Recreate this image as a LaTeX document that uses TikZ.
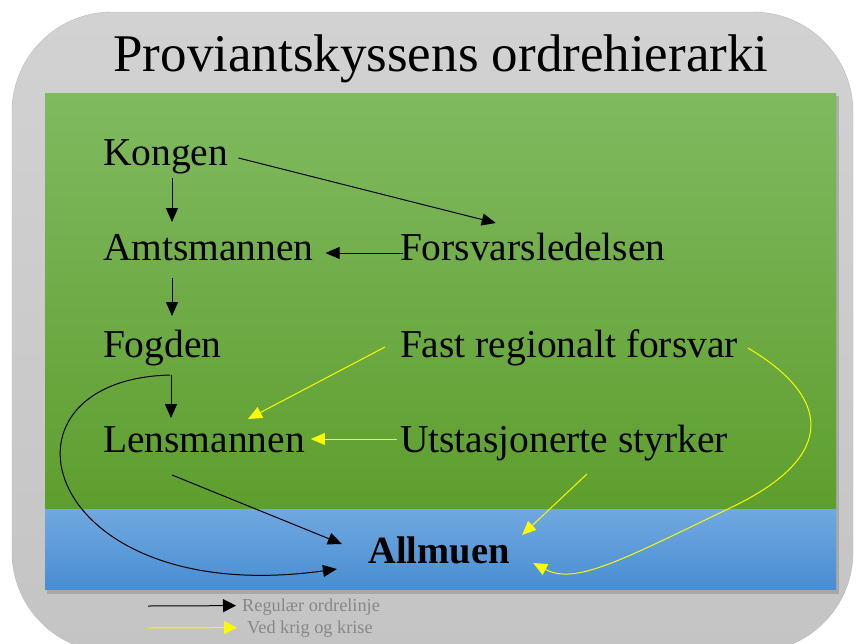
\documentclass[tikz,border=0pt]{standalone}
\usepackage{fontspec}
\setmainfont{Liberation Serif}
\usetikzlibrary{arrows.meta}

\definecolor{bggray}{RGB}{210,210,210}
\definecolor{bggraydark}{RGB}{196,196,196}
\definecolor{greentop}{RGB}{128,186,96}
\definecolor{greenbot}{RGB}{94,158,46}
\definecolor{bluetop}{RGB}{112,168,224}
\definecolor{bluebot}{RGB}{72,142,210}
\definecolor{legendgray}{RGB}{135,135,135}
\definecolor{krisegul}{RGB}{250,250,0}

\begin{document}
\begin{tikzpicture}[x=1pt,y=-1pt,
  lbl/.style={inner sep=0pt,outer sep=0pt,anchor=base west,text height=27pt,text depth=9pt,font=\fontsize{39.5}{42}\selectfont},
  legtxt/.style={inner sep=0pt,anchor=base west,text=legendgray,font=\fontsize{18.3}{20}\selectfont},
  reg/.style={black,line width=1pt,-{Triangle[length=14pt,width=12pt]}},
  krise/.style={krisegul,line width=1pt,-{Triangle[length=14pt,width=12pt]}}]
\useasboundingbox (0,0) rectangle (856,643);
\clip (0,0) rectangle (856,643);
% bakgrunn
\shadedraw[top color=bggray,bottom color=bggraydark,draw=black!28,rounded corners=100pt] (12,12) rectangle (853,652);
\fill[black!45,opacity=0.5] (47,96) rectangle (839,594);
\shade[top color=greentop,bottom color=greenbot] (45,93) rectangle (836,509);
\shade[top color=bluetop,bottom color=bluebot] (45,509) rectangle (836,589);

\node[anchor=base,inner sep=0pt,font=\fontsize{53}{56}\selectfont] (title) at (441,71) {Proviantskyssens ordrehierarki};

% ledd
\node[lbl] (kongen) at (103,165) {Kongen};
\node[lbl] (amt) at (103,260) {Amtsmannen};
\node[lbl] (fogd) at (103,357) {Fogden};
\node[lbl] (lens) at (103,452) {Lensmannen};
\node[lbl] (forsvar) at (400,260) {Forsvarsledelsen};
\node[lbl] (fast) at (400,357) {Fast regionalt forsvar};
\node[lbl] (utst) at (400,452) {Utstasjonerte styrker};
\node[lbl,anchor=base,font=\fontsize{38.5}{42}\selectfont\bfseries] (allm) at (439,563) {Allmuen};

% vanlig ordrelinje
\draw[reg] ([shift={(10.5,2)}]kongen.east) -- ([shift={(-37,-10)}]forsvar.north);
\draw[reg] ([shift={(69,4)}]kongen.south west) -- ([shift={(69,-11)}]amt.north west);
\draw[reg] ([shift={(3,2)}]forsvar.west) -- ([shift={(12,2)}]amt.east);
\draw[reg] ([shift={(69,9)}]amt.south west) -- ([shift={(69,-14)}]fogd.north west);
\draw[reg] ([shift={(68,9)}]fogd.south west) -- ([shift={(68,-7)}]lens.north west);
\draw[reg] ([shift={(67,9)}]fogd.south west) .. controls +(-190,5) and +(-297,41) .. ([shift={(-31.5,15)}]allm.west);
\draw[reg] ([shift={(69,14)}]lens.south west) -- ([shift={(-26.5,-10)}]allm.west);

% krig og krise
\draw[krise] ([shift={(-15,-1)}]fast.west) -- ([shift={(145,-6)}]lens.north west);
\draw[krise] ([shift={(-3,-4)}]utst.west) -- ([shift={(6,-4)}]lens.east);
\draw[krise] ([shift={(187,13)}]utst.south west) -- ([shift={(12.5,-1)}]allm.north east);
\draw[krise] ([shift={(10,0)}]fast.east) .. controls +(80,47) and (842,455) .. (730,508) .. controls (620,561) and +(42,22) .. ([shift={(23.5,9)}]allm.east);

% forklaring
\coordinate (legreg) at (148,606);
\coordinate (legkrise) at (148,628);
\node[legtxt] (regtxt) at (242,611) {Regulær ordrelinje};
\node[legtxt] (krisetxt) at (247,633) {Ved krig og krise};
\draw[reg,-{Triangle[length=13pt,width=13pt]}] (legreg) -- ([shift={(-6,-1)}]regtxt.west);
\draw[krise,-{Triangle[length=13pt,width=13pt]}] (legkrise) -- ([shift={(-10,-1)}]krisetxt.west);
\end{tikzpicture}
\end{document}
